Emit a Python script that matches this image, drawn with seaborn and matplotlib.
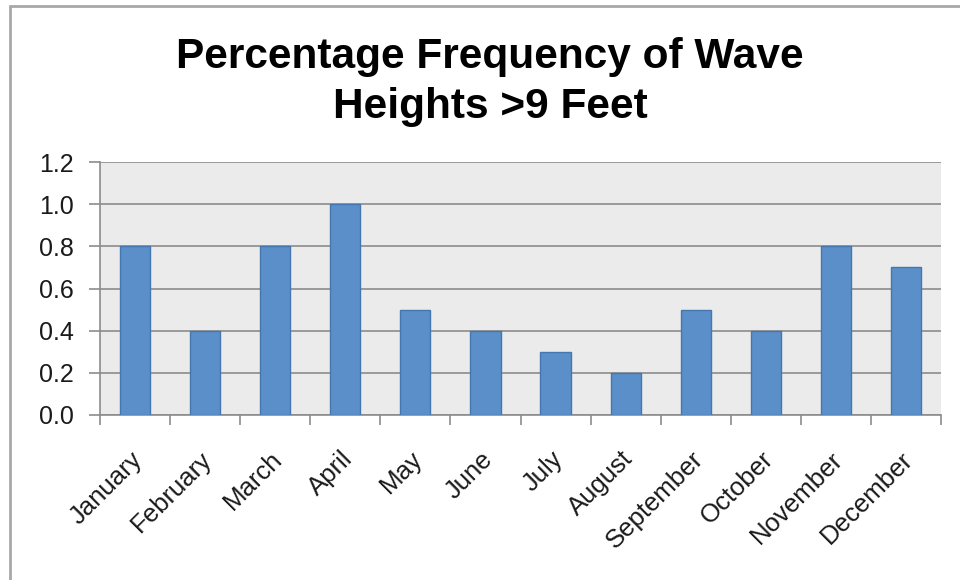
import matplotlib
matplotlib.use("Agg")
import matplotlib.pyplot as plt
from matplotlib.lines import Line2D
from matplotlib.transforms import ScaledTranslation
import seaborn as sns
import pandas as pd

months = ["January", "February", "March", "April", "May", "June",
          "July", "August", "September", "October", "November", "December"]
frequency = [0.8, 0.4, 0.8, 1.0, 0.5, 0.4, 0.3, 0.2, 0.5, 0.4, 0.8, 0.7]
y_ticks = [0.0, 0.2, 0.4, 0.6, 0.8, 1.0, 1.2]

sns.set_theme(style="white")
plt.rcParams["font.family"] = ["Liberation Sans", "DejaVu Sans"]

df = pd.DataFrame({"month": months, "freq": frequency})

W, H = 960, 580
fig = plt.figure(figsize=(W / 100, H / 100), dpi=100)
left, right, top, bottom = 100, 941, 162, 415
ax = fig.add_axes([left / W, 1 - bottom / H, (right - left) / W, (bottom - top) / H])

sns.barplot(data=df, x="month", y="freq", ax=ax, color="#5B8FC9",
            width=0.43, saturation=1, edgecolor="#4676AE", linewidth=1.0, zorder=3)

ax.set_facecolor("#EBEBEB")
ax.set_xlim(-0.5, len(months) - 0.5)
ax.set_ylim(0, 1.2)
ax.set_yticks(y_ticks)
ax.set_yticklabels([f"{v:.1f}" for v in y_ticks], fontsize=18, color="#1a1a1a")
for v in y_ticks:
    ax.axhline(v, color="#8C8C8C", linewidth=1.2, zorder=1)

ax.set_xlabel("")
ax.set_ylabel("")
ax.set_xticks(range(len(months)))
ax.set_xticklabels(months, rotation=45, ha="right", rotation_mode="anchor",
                   fontsize=18.5, color="#1a1a1a")
ax.tick_params(axis="x", length=0, pad=23)
shift = ScaledTranslation(-5 / 100, 0, fig.dpi_scale_trans)
for lab in ax.get_xticklabels():
    lab.set_transform(lab.get_transform() + shift)
ax.tick_params(axis="y", length=8, width=1.2, color="#8C8C8C", pad=11, left=True)

# category boundary ticks below the x axis
ax.set_xticks([i - 0.5 for i in range(len(months) + 1)], minor=True)
ax.tick_params(axis="x", which="minor", length=7, width=1.2, color="#8C8C8C",
               bottom=True)

for side in ["top", "right"]:
    ax.spines[side].set_visible(False)
for side in ["left", "bottom"]:
    ax.spines[side].set_color("#8C8C8C")
    ax.spines[side].set_linewidth(1.2)

fig.text(490 / W, 1 - 82 / H, "Percentage Frequency of Wave\nHeights >9 Feet",
         ha="center", va="center", fontsize=30.5, fontweight="bold",
         linespacing=1.3, color="#000000")

# chart frame edges
fig.add_artist(Line2D([10 / W, 1.0], [1 - 6 / H, 1 - 6 / H],
                      transform=fig.transFigure, color="#A8A8A8", linewidth=2))
fig.add_artist(Line2D([10 / W, 10 / W], [0.0, 1 - 6 / H],
                      transform=fig.transFigure, color="#A8A8A8", linewidth=2))

fig.savefig("out.png", dpi=100, facecolor="white")
